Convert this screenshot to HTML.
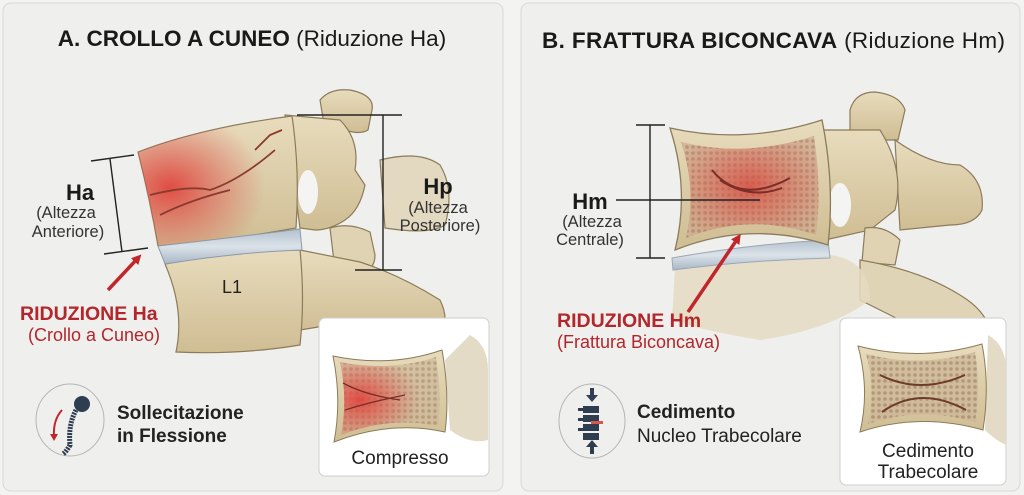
<!DOCTYPE html>
<html><head><meta charset="utf-8"><style>
html,body{margin:0;padding:0;background:#f3f3f2;}
svg{display:block;font-family:"Liberation Sans",sans-serif;}
</style></head><body>
<svg width="1024" height="495" viewBox="0 0 1024 495" xmlns="http://www.w3.org/2000/svg">
<defs>
<linearGradient id="bone" x1="0" y1="0" x2="0" y2="1"><stop offset="0" stop-color="#e8dcbd"/><stop offset="1" stop-color="#cfbd93"/></linearGradient>
<linearGradient id="disc" x1="0" y1="0" x2="0" y2="1"><stop offset="0" stop-color="#b3c1ce"/><stop offset="0.5" stop-color="#dbe2e9"/><stop offset="1" stop-color="#a8b7c6"/></linearGradient>
<radialGradient id="redA" cx="0.2" cy="0.55" r="0.6"><stop offset="0" stop-color="#e0463f" stop-opacity="0.95"/><stop offset="1" stop-color="#e0564f" stop-opacity="0"/></radialGradient>
<radialGradient id="redB" cx="0.5" cy="0.5" r="0.6"><stop offset="0" stop-color="#d9453c" stop-opacity="0.8"/><stop offset="1" stop-color="#d9554c" stop-opacity="0.1"/></radialGradient>
<pattern id="trab" width="6" height="6" patternUnits="userSpaceOnUse"><rect width="6" height="6" fill="#cdb89a"/><circle cx="3" cy="3" r="1.8" fill="#a88a6a"/></pattern>
<marker id="ar" markerWidth="10" markerHeight="10" refX="5" refY="5" orient="auto" markerUnits="userSpaceOnUse"><path d="M0,0 L10,5 L0,10 Z" fill="#c0262c"/></marker>
</defs>

<rect x="3" y="3" width="500" height="488" rx="8" fill="#efefee" stroke="#d8d8d8"/>
<rect x="521" y="3" width="499" height="488" rx="8" fill="#efefee" stroke="#d8d8d8"/>

<text x="252" y="46" text-anchor="middle" font-size="22.5" fill="#1a1a1a"><tspan font-weight="bold">A. CROLLO A CUNEO</tspan> (Riduzione Ha)</text>
<text x="542" y="48" font-size="22.5" fill="#1a1a1a" textLength="463"><tspan font-weight="bold">B. FRATTURA BICONCAVA</tspan> (Riduzione Hm)</text>

<!-- LEFT -->
<g stroke="#8c7b5a" stroke-width="1.2">
<path d="M380,160 Q420,150 440,165 Q455,190 445,225 Q430,235 385,228 Z" fill="#e3d8c0"/>
<path d="M320,100 Q330,88 350,90 Q375,95 372,110 L368,130 Q360,135 345,130 L325,130 Z" fill="url(#bone)"/>
<path d="M285,115 L340,120 Q360,140 355,170 L365,185 Q360,210 345,220 Q330,230 315,230 L300,228 Z" fill="url(#bone)"/>
<path d="M330,228 Q350,222 370,232 L375,255 Q375,270 360,275 L335,270 Z" fill="#e0d3b3"/>
<path d="M300,250 L360,262 Q400,275 440,300 Q450,320 440,335 L360,320 L300,330 Z" fill="url(#bone)"/>
<path d="M138,152 Q200,128 292,116 Q300,170 296,228 Q230,240 158,246 Q150,200 138,152 Z" fill="url(#bone)"/>
<path d="M165,264 Q240,250 300,250 Q305,300 300,345 Q240,355 176,352 Q185,310 165,264 Z" fill="url(#bone)"/>
</g>
<path d="M138,152 Q200,128 292,116 Q300,170 296,228 Q230,240 158,246 Q150,200 138,152 Z" fill="url(#redA)"/>
<path d="M158,246 Q230,238 300,229 L302,250 Q240,252 165,264 Z" fill="url(#disc)" stroke="#8d9aa6"/>
<ellipse cx="308" cy="192" rx="10" ry="22" fill="#f4f4f3"/>
<path d="M150,195 Q190,185 210,190 Q240,180 275,150 M160,215 Q190,200 230,190 M255,150 L270,135 L282,130" stroke="#8a3a2e" stroke-width="1.8" fill="none"/>
<text x="222" y="293" font-size="18" fill="#222">L1</text>

<g stroke="#222" stroke-width="1.4">
<line x1="91" y1="161" x2="134" y2="155"/><line x1="104" y1="254" x2="148" y2="248"/><line x1="110" y1="159" x2="122" y2="252"/>
<line x1="297" y1="115" x2="402" y2="115"/><line x1="355" y1="270" x2="402" y2="270"/><line x1="383" y1="115" x2="383" y2="270"/>
</g>
<text x="80" y="200" text-anchor="middle" font-size="22" font-weight="bold" fill="#1a1a1a">Ha</text>
<text x="66" y="218" text-anchor="middle" font-size="16.5" fill="#333">(Altezza</text>
<text x="68" y="237" text-anchor="middle" font-size="16.5" fill="#333">Anteriore)</text>
<text x="438" y="194" text-anchor="middle" font-size="22" font-weight="bold" fill="#1a1a1a">Hp</text>
<text x="438" y="213" text-anchor="middle" font-size="16.5" fill="#333">(Altezza</text>
<text x="440" y="231" text-anchor="middle" font-size="16.5" fill="#333">Posteriore)</text>

<line x1="108" y1="290" x2="138" y2="258" stroke="#c0262c" stroke-width="3.5" marker-end="url(#ar)"/>
<text x="20" y="320" font-size="19.5" font-weight="bold" fill="#b3262b">RIDUZIONE Ha</text>
<text x="28" y="341" font-size="18" fill="#b3262b">(Crollo a Cuneo)</text>

<ellipse cx="70" cy="420" rx="34" ry="36" fill="#efefee" stroke="#b5b5b5"/>
<circle cx="82" cy="404" r="8" fill="#2e3e50"/>
<path d="M76,410 Q68,425 70,445 Q66,452 63,454" stroke="#2e3e50" stroke-width="5" fill="none" stroke-dasharray="2 1"/>
<path d="M62,410 Q53,420 54,436" stroke="#c0262c" stroke-width="2" fill="none"/>
<path d="M50,434 L58,434 L54,441 Z" fill="#c0262c"/>
<text x="117" y="419" font-size="19" font-weight="bold" fill="#222">Sollecitazione</text>
<text x="117" y="442" font-size="19" font-weight="bold" fill="#222">in Flessione</text>

<rect x="319" y="318" width="170" height="158" rx="6" fill="#fff" stroke="#cfcfcf"/>
<path d="M470,335 Q488,345 488,370 L488,440 Q470,445 450,430 L445,360 Z" fill="#e4dbc6"/>
<path d="M333,356 Q390,368 442,350 Q450,395 445,432 Q390,420 334,442 Q342,400 333,356 Z" fill="url(#bone)" stroke="#8c7b5a"/>
<path d="M340,362 Q390,372 436,357 Q442,395 438,426 Q390,416 341,435 Q348,400 340,362 Z" fill="url(#trab)" opacity="0.7"/>
<path d="M340,362 Q390,372 436,357 Q442,395 438,426 Q390,416 341,435 Q348,400 340,362 Z" fill="url(#redA)"/>
<path d="M343,383 Q365,395 400,400 M345,410 Q370,402 405,395" stroke="#7a2e25" stroke-width="1.3" fill="none"/>
<text x="400" y="464" text-anchor="middle" font-size="19" fill="#222">Compresso</text>

<!-- RIGHT -->
<g stroke="#8c7b5a" stroke-width="1.2">
<path d="M850,110 Q855,92 875,92 Q900,95 905,110 L898,140 L850,140 Z" fill="url(#bone)"/>
<path d="M895,140 Q930,165 960,165 Q985,180 982,210 Q975,225 950,225 L900,230 Z" fill="url(#bone)"/>
<path d="M820,130 L880,130 Q905,170 895,210 L870,230 L825,240 Z" fill="url(#bone)"/>
<path d="M865,228 Q885,225 900,240 L895,265 L862,262 Z" fill="#e0d3b3"/>
<path d="M860,260 Q920,270 960,295 Q985,310 990,330 L900,320 L860,300 Z" fill="#e0d4b6"/>
</g>
<path d="M675,268 Q760,256 830,255 Q870,260 870,300 Q830,330 760,340 Q700,330 672,320 Z" fill="#e5dbc2" opacity="0.85"/>
<path d="M672,258 Q750,244 828,240 L830,258 Q750,260 673,270 Z" fill="url(#disc)" stroke="#9aa6b2"/>
<ellipse cx="840" cy="205" rx="11" ry="22" fill="#f4f4f3"/>
<path d="M670,128 Q745,145 822,120 Q835,185 828,245 Q750,220 675,250 Q690,190 670,128 Z" fill="url(#bone)" stroke="#8c7b5a" stroke-width="1.3"/>
<path d="M681,142 Q745,158 814,136 Q822,190 816,235 Q750,212 686,238 Q697,190 681,142 Z" fill="url(#trab)" opacity="0.75"/>
<path d="M681,142 Q745,158 814,136 Q822,190 816,235 Q750,212 686,238 Q697,190 681,142 Z" fill="url(#redB)"/>
<path d="M712,170 Q740,205 790,178 M720,180 Q750,200 782,188" stroke="#7a2e25" stroke-width="2" fill="none"/>

<g stroke="#222" stroke-width="1.4">
<line x1="636" y1="125" x2="665" y2="125"/><line x1="636" y1="258" x2="665" y2="258"/><line x1="650" y1="125" x2="650" y2="258"/>
<line x1="616" y1="200" x2="760" y2="200"/>
</g>
<text x="590" y="209" text-anchor="middle" font-size="22" font-weight="bold" fill="#1a1a1a">Hm</text>
<text x="592" y="227" text-anchor="middle" font-size="16.5" fill="#333">(Altezza</text>
<text x="590" y="245" text-anchor="middle" font-size="16.5" fill="#333">Centrale)</text>
<line x1="688" y1="312" x2="738" y2="238" stroke="#c0262c" stroke-width="3.5" marker-end="url(#ar)"/>
<text x="557" y="327" font-size="19.5" font-weight="bold" fill="#b3262b">RIDUZIONE Hm</text>
<text x="557" y="348" font-size="18" fill="#b3262b">(Frattura Biconcava)</text>

<ellipse cx="592" cy="421" rx="33" ry="37" fill="#efefee" stroke="#b5b5b5"/>
<g fill="#2e3e50">
<rect x="590" y="388" width="4" height="8"/><path d="M586,395 L598,395 L592,402 Z"/>
<rect x="583" y="406" width="16" height="7"/><rect x="583" y="415" width="16" height="7"/><rect x="583" y="424" width="16" height="7"/><rect x="583" y="433" width="16" height="7"/>
<rect x="578" y="408" width="6" height="3"/><rect x="578" y="418" width="6" height="3"/><rect x="578" y="428" width="6" height="3"/>
<rect x="590" y="446" width="4" height="8"/><path d="M586,447 L598,447 L592,440 Z"/>
</g>
<rect x="591" y="421" width="12" height="3" fill="#d9554c"/>
<text x="637" y="418" font-size="19" font-weight="bold" fill="#222">Cedimento</text>
<text x="637" y="442" font-size="19" fill="#222">Nucleo Trabecolare</text>

<rect x="840" y="318" width="166" height="167" rx="6" fill="#fff" stroke="#cfcfcf"/>
<path d="M988,335 Q1006,345 1006,370 L1006,445 Q995,440 985,430 Z" fill="#e4dbc6"/>
<path d="M858,346 Q920,362 982,344 Q990,385 983,430 Q920,412 860,432 Q870,390 858,346 Z" fill="url(#bone)" stroke="#8c7b5a"/>
<path d="M866,354 Q920,368 975,352 Q981,388 975,422 Q920,406 868,424 Q876,390 866,354 Z" fill="url(#trab)" opacity="0.8"/>
<path d="M880,375 Q920,395 965,375 M882,412 Q920,385 966,410" stroke="#6e3a2a" stroke-width="2" fill="none"/>
<text x="928" y="457" text-anchor="middle" font-size="19" fill="#222">Cedimento</text>
<text x="928" y="478" text-anchor="middle" font-size="19" fill="#222">Trabecolare</text>
</svg>
</body></html>
